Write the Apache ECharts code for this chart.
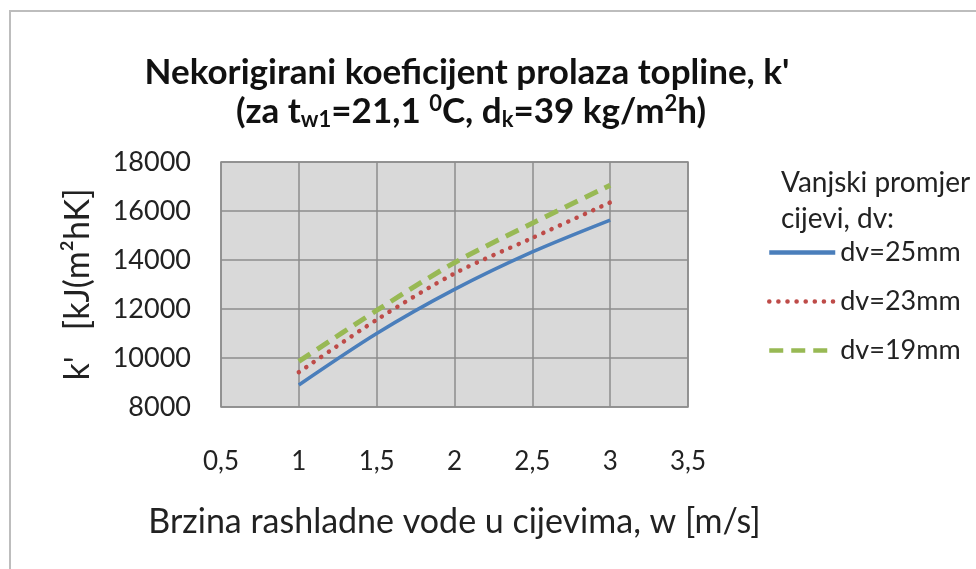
<!DOCTYPE html>
<html>
<head>
<meta charset="utf-8">
<script src="https://cdn.jsdelivr.net/npm/echarts@6/dist/echarts.min.js"></script>
<style>
  html, body { margin: 0; padding: 0; background: #fff; }
  #chart { width: 976px; height: 569px; }
</style>
</head>
<body>
<div id="chart"></div>
<script>
  // brzina vode w [m/s]
  const brzina = [1, 1.5, 2, 2.5, 3];
  // k' za razlicite vanjske promjere cijevi
  const dv25 = [8900, 11000, 12800, 14330, 15630];
  const dv23 = [9420, 11560, 13450, 14900, 16350];
  const dv19 = [9860, 11940, 13890, 15500, 17050];
  const seriesNames = ['dv=25mm', 'dv=23mm', 'dv=19mm'];

  const font = 'Lato';
  const pairs = arr => brzina.map((x, i) => [x, arr[i]]);

  const myChart = echarts.init(document.getElementById('chart'));
  const option = {
    backgroundColor: '#fff',
    textStyle: { fontFamily: font, color: '#222' },
    animation: false,
    graphic: [{
      type: 'rect',
      shape: { x: 10, y: 11, width: 1000, height: 600 },
      style: { fill: 'none', stroke: '#bdbdbd', lineWidth: 2 },
      silent: true
    }],
    title: [{
      text: "Nekorigirani koeficijent prolaza topline, k'",
      left: 462, top: 50, textAlign: 'center',
      textStyle: { fontFamily: font, fontSize: 35, fontWeight: 'bold', color: '#111' }
    }, {
      text: '(za t{sub|w1}=21,1 {sup|0}C, d{sub|k}=39 kg/m{sup|2}h)',
      left: 466, top: 88, textAlign: 'center',
      textStyle: {
        fontFamily: font, fontSize: 35, fontWeight: 'bold', color: '#111',
        rich: {
          sub: { fontFamily: font, fontSize: 22, fontWeight: 'bold', color: '#111', padding: [16, 0, 0, 0] },
          sup: { fontFamily: font, fontSize: 22, fontWeight: 'bold', color: '#111', padding: [0, 0, 16, 0] }
        }
      }
    }, {
      text: 'Vanjski promjer\ncijevi, dv:',
      left: 776, top: 160,
      textStyle: { fontFamily: font, fontSize: 28, fontWeight: 'normal', color: '#222', lineHeight: 36 }
    }],
    legend: {
      data: seriesNames,
      orient: 'vertical',
      left: 762, top: 234,
      itemWidth: 66, itemHeight: 14,
      itemGap: 22,
      itemStyle: { opacity: 0 },
      lineStyle: { width: 4.5 },
      textStyle: { fontFamily: font, fontSize: 27, color: '#222', padding: [0, 0, 0, 0] }
    },
    grid: {
      left: 221, right: 288, top: 162, bottom: 162,
      show: true, backgroundColor: '#d9d9d9', borderColor: '#8c8c8c', borderWidth: 1.5
    },
    xAxis: {
      type: 'value', min: 0.5, max: 3.5, interval: 0.5,
      name: 'Brzina rashladne vode u cijevima, w [m/s]',
      nameLocation: 'middle', nameGap: 98,
      nameTextStyle: { fontFamily: font, fontSize: 34, color: '#222' },
      axisLine: { show: false }, axisTick: { show: false },
      axisLabel: {
        margin: 42, fontFamily: font, fontSize: 26, color: '#222',
        formatter: v => String(v).replace('.', ',')
      },
      splitLine: { show: true, lineStyle: { color: '#8c8c8c', width: 1.5 } }
    },
    yAxis: {
      type: 'value', min: 8000, max: 18000, interval: 2000,
      name: "k'   [kJ(m²hK]",
      nameLocation: 'middle', nameGap: 126,
      nameTextStyle: { fontFamily: font, fontSize: 34, color: '#222' },
      axisLine: { show: false }, axisTick: { show: false },
      axisLabel: { margin: 30, fontFamily: font, fontSize: 27, color: '#222', formatter: v => String(v) },
      splitLine: { show: true, lineStyle: { color: '#8c8c8c', width: 1.5 } }
    },
    series: [{
      name: seriesNames[0], type: 'line', data: pairs(dv25),
      smooth: 0.3, symbol: 'none',
      lineStyle: { color: '#4a7ebb', width: 3.5 },
      itemStyle: { color: '#4a7ebb' }
    }, {
      name: seriesNames[1], type: 'line', data: pairs(dv23),
      smooth: 0.3, symbol: 'none',
      lineStyle: { color: '#be4b48', width: 4.5, type: [0.1, 9], cap: 'round' },
      itemStyle: { color: '#be4b48' }
    }, {
      name: seriesNames[2], type: 'line', data: pairs(dv19),
      smooth: 0.3, symbol: 'none',
      lineStyle: { color: '#98b954', width: 5, type: [14, 8] },
      itemStyle: { color: '#98b954' }
    }]
  };
  myChart.setOption(option);
</script>
</body>
</html>
